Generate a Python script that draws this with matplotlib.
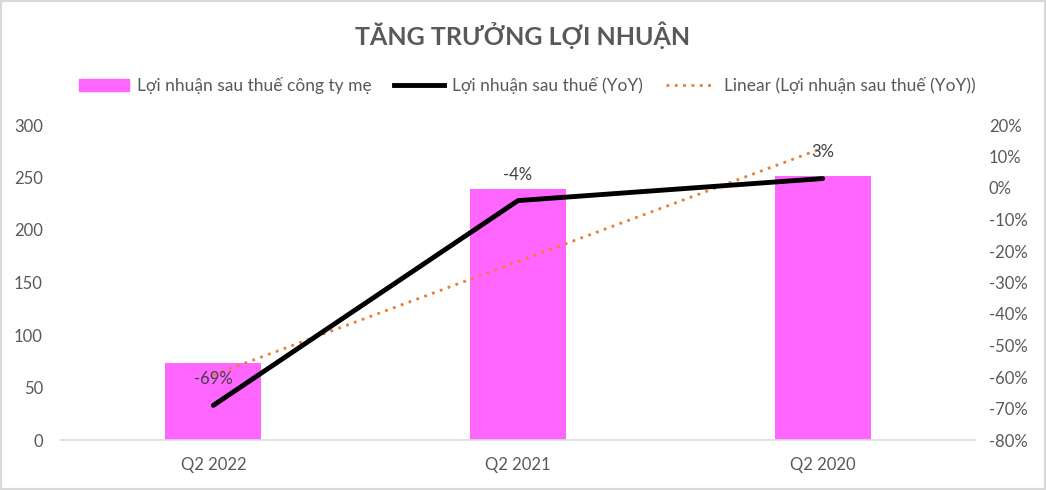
import numpy as np
import matplotlib.pyplot as plt
from matplotlib.patches import Rectangle
from matplotlib.lines import Line2D

plt.rcParams['font.family'] = ['Lato', 'DejaVu Sans']

quarters = ['Q2 2022', 'Q2 2021', 'Q2 2020']
profit = [73.5, 239, 251]          # Lợi nhuận sau thuế công ty mẹ
yoy = [-69, -4, 3]                 # Lợi nhuận sau thuế (YoY), %
yoy_labels = ['-69%', '-4%', '3%']
left_ticks = [0, 50, 100, 150, 200, 250, 300]
right_ticks = list(range(-80, 21, 10))

grey = '#595959'
pink = '#FF66FF'
orange = '#ED7D31'

fig = plt.figure(figsize=(10.46, 4.9), dpi=100)
fig.patches.append(Rectangle((0, 0), 1, 1, transform=fig.transFigure,
                             fill=False, edgecolor='#D9D9D9', linewidth=3))

ax = fig.add_axes([61 / 1046, 50 / 490, 914 / 1046, 315 / 490])
x = np.arange(len(quarters))
ax.bar(x, profit, width=0.315, color=pink, zorder=1)
ax.set_xlim(-0.5, 2.5)
ax.set_ylim(0, 300)
ax.set_yticks(left_ticks)
ax.set_xticks(x)
ax.set_xticklabels(quarters)
for s in ['top', 'right', 'left']:
    ax.spines[s].set_visible(False)
ax.spines['bottom'].set_color('#D9D9D9')
ax.spines['bottom'].set_linewidth(1.2)
ax.tick_params(axis='both', length=0, labelsize=12, colors=grey)
ax.tick_params(axis='y', pad=13)
ax.tick_params(axis='x', pad=12)

ax2 = ax.twinx()
ax2.set_ylim(-80, 20)
ax2.set_yticks(right_ticks)
ax2.set_yticklabels([f'{t}%' for t in right_ticks])
for s in ax2.spines.values():
    s.set_visible(False)
ax2.tick_params(axis='y', length=0, labelsize=12, colors=grey, pad=10)

# trend line
k, b = np.polyfit(x, yoy, 1)
ax2.plot(x, k * x + b, color=orange, linestyle=(0, (1, 2)), linewidth=2, zorder=2)
ax2.plot(x, yoy, color='black', linewidth=3.5, solid_capstyle='round', zorder=3)
for xi, yi, lab in zip(x, yoy, yoy_labels):
    ax2.annotate(lab, (xi, yi), xytext=(0, 13), textcoords='offset points',
                 ha='center', va='bottom', fontsize=12, color='#404040')

fig.text(0.5, 1 - 35 / 490, 'TĂNG TRƯỞNG LỢI NHUẬN', ha='center', va='center',
         fontsize=18, fontweight='bold', color=grey)

handles = [Rectangle((0, 0), 1, 1, color=pink),
           Line2D([], [], color='black', linewidth=3.5),
           Line2D([], [], color=orange, linestyle=(0, (1, 2)), linewidth=2)]
labels = ['Lợi nhuận sau thuế công ty mẹ', 'Lợi nhuận sau thuế (YoY)',
          'Linear (Lợi nhuận sau thuế (YoY))']
fig.legend(handles, labels, loc='center', bbox_to_anchor=(527 / 1046, 1 - 86 / 490),
           ncol=3, frameon=False, fontsize=12.5, labelcolor=grey,
           handlelength=2.9, columnspacing=1.3, handletextpad=0.45)

fig.savefig('out.png', dpi=100)
